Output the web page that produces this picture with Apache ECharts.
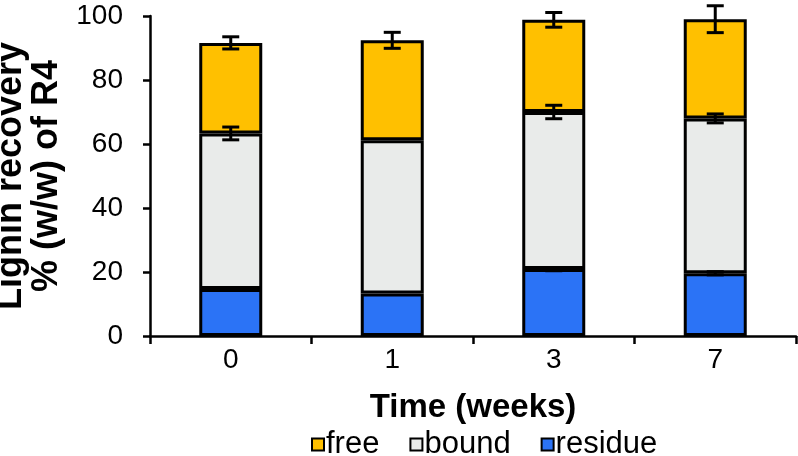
<!DOCTYPE html>
<html>
<head>
<meta charset="utf-8">
<script src="https://cdn.jsdelivr.net/npm/echarts@6/dist/echarts.min.js"></script>
<style>html,body{margin:0;padding:0;background:#fff;}#c{width:798px;height:456px;}</style>
</head>
<body>
<div id="c"></div>
<script>
const categories = ['0', '1', '3', '7'];
const residue = [14.7, 13.3, 20.9, 19.6];
const bound = [48.6, 47.9, 49.1, 48.4];
const free = [28.3, 31.2, 28.8, 31.0];
const residueErr = [0.3, 0, 0.5, 0.5];
const boundErr = [2.0, 0, 2.1, 1.4];
const freeErr = [1.9, 2.5, 2.3, 4.2];
const yTicks = [0, 20, 40, 60, 80, 100];

const FONT = '"Liberation Sans", Arial, sans-serif';
const colors = { free: '#FFC000', bound: '#E9EBEA', residue: '#2B73F6' };

function errData(base, err) {
  return base.map((v, i) => [i, v, err[i]]);
}
const residueTop = residue.slice();
const boundTop = residue.map((v, i) => v + bound[i]);
const freeTop = boundTop.map((v, i) => v + free[i]);

function renderErr(params, api) {
  const e = api.value(2);
  if (!e) return null;
  const x = api.value(0), t = api.value(1);
  const hi = api.coord([x, t + e]);
  const lo = api.coord([x, t - e]);
  const w = 8.5;
  const st = { stroke: '#000', lineWidth: 3 };
  return {
    type: 'group',
    children: [
      { type: 'line', shape: { x1: hi[0], y1: hi[1], x2: lo[0], y2: lo[1] }, style: st },
      { type: 'line', shape: { x1: hi[0] - w, y1: hi[1], x2: hi[0] + w, y2: hi[1] }, style: st },
      { type: 'line', shape: { x1: lo[0] - w, y1: lo[1], x2: lo[0] + w, y2: lo[1] }, style: st }
    ]
  };
}

const barStyle = c => ({ color: c, borderColor: '#000', borderWidth: 3 });

const chart = echarts.init(document.getElementById('c'));
chart.setOption({
  animation: false,
  grid: { left: 150, right: 2, top: 16, bottom: 120, outerBoundsMode: 'none', containLabel: false },
  legend: {
    data: ['free', 'bound', 'residue'],
    top: 424,
    left: 306,
    icon: 'rect',
    itemWidth: 12,
    itemHeight: 12,
    itemGap: 30,
    itemStyle: { borderColor: '#000', borderWidth: 2 },
    textStyle: { fontFamily: FONT, fontSize: 31, color: '#000', padding: [0, 0, 0, -3] }
  },
  xAxis: {
    type: 'category',
    data: categories,
    boundaryGap: true,
    name: 'Time (weeks)',
    nameLocation: 'middle',
    nameGap: 55,
    nameTextStyle: { fontFamily: FONT, fontSize: 33, fontWeight: 'bold', color: '#000' },
    axisLine: { lineStyle: { color: '#000', width: 2.5 } },
    axisTick: { show: true, length: 8, lineStyle: { color: '#000', width: 2.5 }, alignWithLabel: false },
    axisLabel: { fontFamily: FONT, fontSize: 28, color: '#000', margin: 10 }
  },
  yAxis: {
    type: 'value',
    min: 0,
    max: 100,
    interval: 20,
    name: 'Lignin recovery\n% (w/w) of R4',
    nameLocation: 'middle',
    nameGap: 78,
    nameRotate: 90,
    nameTextStyle: { fontFamily: FONT, fontSize: 36, fontWeight: 'bold', color: '#000', lineHeight: 36 },
    splitLine: { show: false },
    axisLine: { show: true, lineStyle: { color: '#000', width: 2.5 } },
    axisTick: { show: true, length: 7, lineStyle: { color: '#000', width: 2.5 } },
    axisLabel: {
      fontFamily: FONT, fontSize: 28, color: '#000', margin: 27,
      formatter: v => (yTicks.indexOf(v) >= 0 ? String(v) : '')
    }
  },
  series: [
    { name: 'residue', type: 'bar', stack: 's', barWidth: 63, data: residue, itemStyle: barStyle(colors.residue) },
    { name: 'bound', type: 'bar', stack: 's', barWidth: 63, data: bound, itemStyle: barStyle(colors.bound) },
    { name: 'free', type: 'bar', stack: 's', barWidth: 63, data: free, itemStyle: barStyle(colors.free) },
    { type: 'custom', renderItem: renderErr, data: errData(residueTop, residueErr), z: 10 },
    { type: 'custom', renderItem: renderErr, data: errData(boundTop, boundErr), z: 10 },
    { type: 'custom', renderItem: renderErr, data: errData(freeTop, freeErr), z: 10 }
  ]
});
</script>
</body>
</html>
